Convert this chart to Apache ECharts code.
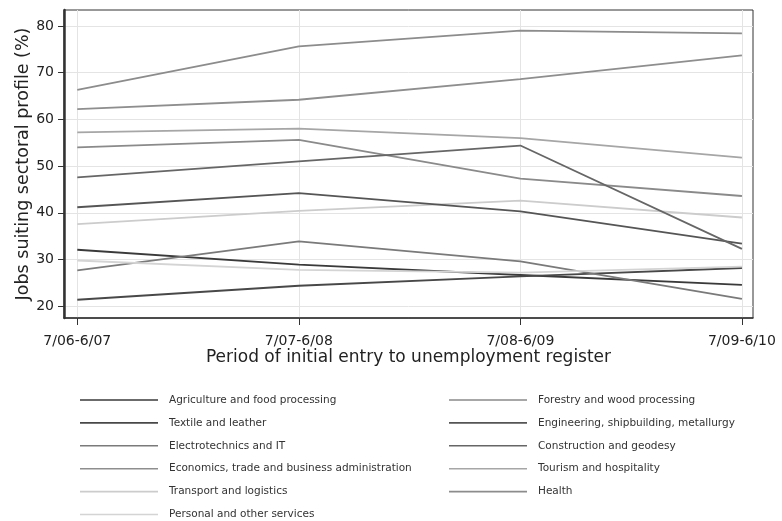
<!DOCTYPE html>
<html>
<head>
<meta charset="utf-8">
<script src="https://cdn.jsdelivr.net/npm/echarts@6/dist/echarts.min.js"></script>
<style>
  html, body { margin: 0; padding: 0; background: #fff; }
  #chart { width: 782px; height: 521px; }
</style>
</head>
<body>
<div id="chart"></div>
<script>
// periods on the x axis
const periods = ['7/06-6/07', '7/07-6/08', '7/08-6/09', '7/09-6/10'];
const yTicks = [20, 30, 40, 50, 60, 70, 80];

// share of jobs suiting sectoral profile (%)
const agriculture = [32.1, 28.9, 26.7, 24.6];
const textile = [21.4, 24.4, 26.4, 28.2];
const electro = [27.7, 33.9, 29.6, 21.6];
const economics = [62.2, 64.2, 68.6, 73.7];
const transport = [37.6, 40.4, 42.6, 39.0];
const personal = [29.8, 27.8, 27.2, 28.5];
const forestry = [54.0, 55.6, 47.3, 43.6];
const engineering = [41.2, 44.2, 40.3, 33.4];
const construction = [47.6, 51.0, 54.4, 32.3];
const tourism = [57.2, 58.0, 56.0, 51.8];
const health = [66.3, 75.6, 79.0, 78.4];

const leftNames = ['Agriculture and food processing', 'Textile and leather', 'Electrotechnics and IT',
  'Economics, trade and business administration', 'Transport and logistics', 'Personal and other services'];
const rightNames = ['Forestry and wood processing', 'Engineering, shipbuilding, metallurgy',
  'Construction and geodesy', 'Tourism and hospitality', 'Health'];

const seriesDefs = [
  { name: leftNames[0], data: agriculture, color: '#3a3a3a' },
  { name: leftNames[1], data: textile, color: '#484848' },
  { name: leftNames[2], data: electro, color: '#7a7a7a' },
  { name: leftNames[3], data: economics, color: '#8e8e8e' },
  { name: leftNames[4], data: transport, color: '#cccccc' },
  { name: leftNames[5], data: personal, color: '#d4d4d4' },
  { name: rightNames[0], data: forestry, color: '#8a8a8a' },
  { name: rightNames[1], data: engineering, color: '#555555' },
  { name: rightNames[2], data: construction, color: '#666666' },
  { name: rightNames[3], data: tourism, color: '#a6a6a6' },
  { name: rightNames[4], data: health, color: '#8c8c8c' }
];

const chart = echarts.init(document.getElementById('chart'));
const font = 'DejaVu Sans, sans-serif';

// two legend columns below the plot
const legendCommon = {
  orient: 'vertical',
  top: 394.5,
  padding: 0,
  itemWidth: 78,
  itemHeight: 14,
  itemGap: 11.9,
  icon: 'path://M0,0 L78,0 L78,1.6 L0,1.6 Z',
  textStyle: { fontFamily: font, fontSize: 10.5, color: '#333', padding: [0, 0, 0, 6] },
  selectedMode: false
};

chart.setOption({
  animation: false,
  grid: { left: 64, right: 29, top: 10, bottom: 203, show: true, borderColor: '#333', borderWidth: 1 },
  legend: [
    Object.assign({ left: 80, data: leftNames }, legendCommon),
    Object.assign({ left: 449, data: rightNames }, legendCommon)
  ],
  xAxis: {
    type: 'value',
    min: -0.06,
    max: 3.05,
    name: 'Period of initial entry to unemployment register',
    nameLocation: 'middle',
    nameGap: 31,
    nameMoveOverlap: false,
    nameTextStyle: { fontFamily: font, fontSize: 17, color: '#222' },
    axisLine: { show: true, onZero: false, lineStyle: { color: '#333', width: 1.5 } },
    axisTick: { show: true, length: 7, customValues: [0, 1, 2, 3], lineStyle: { color: '#333' } },
    axisLabel: {
      customValues: [0, 1, 2, 3],
      margin: 16,
      fontFamily: font, fontSize: 14, color: '#222',
      formatter: v => periods[Math.round(v)]
    },
    splitLine: { show: true, lineStyle: { color: '#e4e4e4', width: 1 } }
  },
  yAxis: {
    type: 'value',
    min: 17.5,
    max: 83.4,
    name: 'Jobs suiting sectoral profile (%)',
    nameLocation: 'middle',
    nameGap: 32,
    nameMoveOverlap: false,
    nameTextStyle: { fontFamily: font, fontSize: 17.5, color: '#222' },
    axisLine: { show: true, onZero: false, lineStyle: { color: '#333', width: 2.5 } },
    axisTick: { show: true, length: 6, customValues: yTicks, lineStyle: { color: '#333' } },
    axisLabel: { customValues: yTicks, margin: 10, fontFamily: font, fontSize: 14, color: '#222' },
    splitLine: { show: true, lineStyle: { color: '#e4e4e4', width: 1 } }
  },
  series: seriesDefs.map(s => ({
    name: s.name,
    type: 'line',
    symbol: 'none',
    data: s.data.map((v, i) => [i, v]),
    color: s.color,
    lineStyle: { color: s.color, width: 1.8 }
  }))
});
</script>
</body>
</html>
